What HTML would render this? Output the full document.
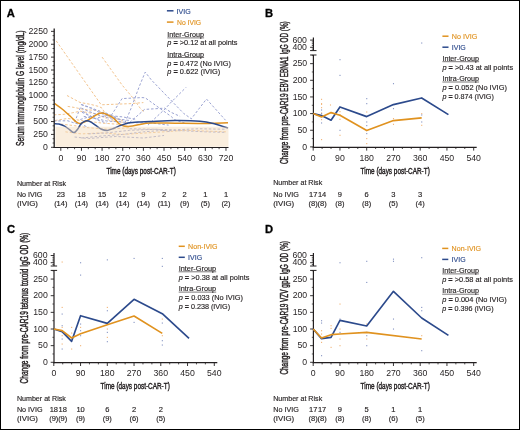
<!DOCTYPE html>
<html><head><meta charset="utf-8"><style>
html,body{margin:0;padding:0;background:#fff;}
svg{display:block;will-change:transform;}
text{font-family:"Liberation Sans", sans-serif;}
</style></head><body>
<svg width="520" height="430" viewBox="0 0 520 430" font-family='"Liberation Sans", sans-serif' fill="#231f20">
<rect width="520" height="430" fill="#fff"/>
<text x="6.80" y="16.80" font-size="11.2" font-weight="bold" fill="#000" stroke="#000" stroke-width="0.3">A</text>
<path d="M56.21,40.89 L101.17,104.79 L131.23,103.60 L143.38,102.57" fill="none" stroke="#f3c48e" stroke-width="1.0" stroke-dasharray="2.5 1.9"/>
<path d="M66.99,95.51 L80.07,102.47 L90.62,104.38 L98.88,106.49 L102.09,108.14 L106.68,116.38 L122.74,120.50" fill="none" stroke="#f3c48e" stroke-width="1.0" stroke-dasharray="2.5 1.9"/>
<path d="M67.68,106.39 L74.79,107.52 L84.20,109.58 L98.88,110.61 L103.24,113.81 L108.97,120.50 L129.62,123.08" fill="none" stroke="#f3c48e" stroke-width="1.0" stroke-dasharray="2.5 1.9"/>
<path d="M53.92,114.84 L64.47,114.32 L72.73,112.72 L80.30,111.23 L95.21,113.81 L106.68,118.44" fill="none" stroke="#f3c48e" stroke-width="1.0" stroke-dasharray="2.5 1.9"/>
<path d="M102.09,57.12 L122.05,84.95 L132.60,97.57 L140.86,109.12 L144.53,112.26" fill="none" stroke="#f3c48e" stroke-width="1.0" stroke-dasharray="2.5 1.9"/>
<path d="M55.06,120.50 L67.68,118.44 L81.45,120.50 L102.09,123.08 L122.74,124.63" fill="none" stroke="#f3c48e" stroke-width="1.0" stroke-dasharray="2.5 1.9"/>
<path d="M60.80,124.11 L74.56,125.66 L88.33,127.72 L106.68,129.26 L129.62,127.72" fill="none" stroke="#f3c48e" stroke-width="1.0" stroke-dasharray="2.5 1.9"/>
<path d="M65.39,131.84 L81.45,133.90 L102.09,132.87 L122.74,134.42 L164.03,131.84 L184.68,130.30 L225.97,131.84" fill="none" stroke="#f3c48e" stroke-width="1.0" stroke-dasharray="2.5 1.9"/>
<path d="M53.92,121.02 L67.68,120.76 L74.56,123.08 L81.45,124.63 L88.33,127.20" fill="none" stroke="#9ca4d3" stroke-width="1.0" stroke-dasharray="2.5 1.9"/>
<path d="M81.45,104.53 L90.62,107.62 L99.80,111.23 L111.27,116.38 L122.74,120.50" fill="none" stroke="#9ca4d3" stroke-width="1.0" stroke-dasharray="2.5 1.9"/>
<path d="M80.30,107.62 L76.86,116.38 L74.56,123.08" fill="none" stroke="#9ca4d3" stroke-width="1.0" stroke-dasharray="2.5 1.9"/>
<path d="M82.59,111.23 L88.33,114.84 L98.65,120.50 L106.68,123.08" fill="none" stroke="#9ca4d3" stroke-width="1.0" stroke-dasharray="2.5 1.9"/>
<path d="M125.03,122.57 L131.00,108.50 L139.48,85.98 L145.22,72.07 L151.41,80.00 L183.76,113.50 L191.33,118.80 L206.47,99.02 L225.51,120.20" fill="none" stroke="#9ca4d3" stroke-width="1.0" stroke-dasharray="2.5 1.9"/>
<path d="M111.27,115.35 L122.05,98.60 L142.01,97.57 L145.22,97.83 L171.37,116.64 L174.58,119.73 L184.68,123.08" fill="none" stroke="#9ca4d3" stroke-width="1.0" stroke-dasharray="2.5 1.9"/>
<path d="M147.97,125.14 L153.48,119.73 L165.18,108.81 L171.37,101.95 L186.05,87.37" fill="none" stroke="#9ca4d3" stroke-width="1.0" stroke-dasharray="2.5 1.9"/>
<path d="M83.74,116.38 L95.21,118.44 L106.68,121.02 L129.62,122.57 L152.56,123.08 L168.62,125.14" fill="none" stroke="#9ca4d3" stroke-width="1.0" stroke-dasharray="2.5 1.9"/>
<path d="M81.45,138.02 L102.09,135.96 L122.74,134.42 L143.38,131.84 L164.03,130.30 L184.68,130.81 L205.32,131.84 L225.97,132.36" fill="none" stroke="#9ca4d3" stroke-width="1.0" stroke-dasharray="2.5 1.9"/>
<path d="M88.33,133.90 L106.68,132.87 L129.62,130.30 L157.15,129.26 L170.91,131.84" fill="none" stroke="#9ca4d3" stroke-width="1.0" stroke-dasharray="2.5 1.9"/>
<path d="M74.56,136.99 L88.33,138.54 L115.86,136.48 L143.38,138.02 L164.03,135.45" fill="none" stroke="#9ca4d3" stroke-width="1.0" stroke-dasharray="2.5 1.9"/>
<path d="M129.62,128.75 L152.56,129.26 L175.50,129.78 L198.44,128.75 L225.97,129.26" fill="none" stroke="#9ca4d3" stroke-width="1.0" stroke-dasharray="2.5 1.9"/>
<path d="M129.62,122.57 L144.53,109.43 L164.72,108.14 L170.91,112.26 L180.09,116.38" fill="none" stroke="#9ca4d3" stroke-width="1.0" stroke-dasharray="2.5 1.9"/>
<path d="M80.99,104.53 L90.62,108.14 L102.09,113.81 L113.56,118.44 L129.62,120.50" fill="none" stroke="#9ca4d3" stroke-width="1.0" stroke-dasharray="2.5 1.9"/>
<path d="M81.45,108.14 L88.33,111.23 L100.94,115.87 L120.44,121.54" fill="none" stroke="#9ca4d3" stroke-width="1.0" stroke-dasharray="2.5 1.9"/>
<path d="M81.90,112.26 L95.21,118.44 L106.68,115.35 L122.74,116.90 L136.50,119.47" fill="none" stroke="#9ca4d3" stroke-width="1.0" stroke-dasharray="2.5 1.9"/>
<path d="M80.30,119.47 L90.62,116.38 L104.39,112.26 L118.15,118.44" fill="none" stroke="#9ca4d3" stroke-width="1.0" stroke-dasharray="2.5 1.9"/>
<path d="M54.80,103.70 C56.02,104.58 59.52,106.90 62.10,109.00 C64.68,111.10 68.18,114.33 70.30,116.30 C72.42,118.27 73.45,119.67 74.80,120.80 C76.15,121.93 77.45,122.67 78.40,123.10 C79.35,123.53 79.53,123.58 80.50,123.40 C81.47,123.22 82.92,122.57 84.20,122.00 C85.48,121.43 86.57,120.95 88.20,120.00 C89.83,119.05 91.78,117.45 94.00,116.30 C96.22,115.15 98.48,112.95 101.50,113.10 C104.52,113.25 109.22,115.47 112.10,117.20 C114.98,118.93 116.87,122.05 118.80,123.50 C120.73,124.95 121.77,125.43 123.70,125.90 C125.63,126.37 127.68,126.55 130.40,126.30 C133.12,126.05 136.73,124.95 140.00,124.40 C143.27,123.85 144.17,123.20 150.00,123.00 C155.83,122.80 166.67,123.12 175.00,123.20 C183.33,123.28 191.17,123.58 200.00,123.50 C208.83,123.42 223.33,122.83 228.00,122.70" fill="none" stroke="#e0921f" stroke-width="1.5"/>
<path d="M54.50,123.60 C55.23,123.67 57.22,123.58 58.90,124.00 C60.58,124.42 62.83,125.15 64.60,126.10 C66.37,127.05 67.93,128.62 69.50,129.70 C71.07,130.78 72.65,132.67 74.00,132.60 C75.35,132.53 76.45,130.73 77.60,129.30 C78.75,127.87 79.67,125.35 80.90,124.00 C82.13,122.65 83.92,121.73 85.00,121.20 C86.08,120.67 86.32,120.60 87.40,120.80 C88.48,121.00 90.10,121.63 91.50,122.40 C92.90,123.17 94.13,124.27 95.80,125.40 C97.47,126.53 99.58,128.37 101.50,129.20 C103.42,130.03 105.22,130.55 107.30,130.40 C109.38,130.25 111.75,129.13 114.00,128.30 C116.25,127.47 118.38,126.28 120.80,125.40 C123.22,124.52 125.30,123.57 128.50,123.00 C131.70,122.43 136.42,122.23 140.00,122.00 C143.58,121.77 144.17,121.85 150.00,121.60 C155.83,121.35 166.67,120.57 175.00,120.50 C183.33,120.43 193.33,120.62 200.00,121.20 C206.67,121.78 210.33,122.85 215.00,124.00 C219.67,125.15 225.83,127.42 228.00,128.10" fill="none" stroke="#2c4a8c" stroke-width="1.5"/>
<rect x="55.4" y="126.69" width="173.1" height="20.11" fill="#f4d9b6" fill-opacity="0.45"/>
<line x1="54.20" y1="28.50" x2="54.20" y2="148.00" stroke="#231f20" stroke-width="1.3"/>
<line x1="53.50" y1="147.50" x2="228.50" y2="147.50" stroke="#231f20" stroke-width="1.2"/>
<line x1="51.00" y1="147.30" x2="54.20" y2="147.30" stroke="#231f20" stroke-width="0.9"/>
<text x="47.90" y="149.90" font-size="8.3" text-anchor="end" textLength="4.85" lengthAdjust="spacingAndGlyphs" stroke="#231f20" stroke-width="0">0</text>
<line x1="52.60" y1="143.01" x2="54.20" y2="143.01" stroke="#231f20" stroke-width="0.8"/>
<line x1="52.60" y1="138.71" x2="54.20" y2="138.71" stroke="#231f20" stroke-width="0.8"/>
<line x1="51.00" y1="134.42" x2="54.20" y2="134.42" stroke="#231f20" stroke-width="0.9"/>
<text x="47.90" y="137.02" font-size="8.3" text-anchor="end" textLength="14.55" lengthAdjust="spacingAndGlyphs" stroke="#231f20" stroke-width="0">250</text>
<line x1="52.60" y1="130.12" x2="54.20" y2="130.12" stroke="#231f20" stroke-width="0.8"/>
<line x1="52.60" y1="125.83" x2="54.20" y2="125.83" stroke="#231f20" stroke-width="0.8"/>
<line x1="51.00" y1="121.54" x2="54.20" y2="121.54" stroke="#231f20" stroke-width="0.9"/>
<text x="47.90" y="124.14" font-size="8.3" text-anchor="end" textLength="14.55" lengthAdjust="spacingAndGlyphs" stroke="#231f20" stroke-width="0">500</text>
<line x1="52.60" y1="117.24" x2="54.20" y2="117.24" stroke="#231f20" stroke-width="0.8"/>
<line x1="52.60" y1="112.95" x2="54.20" y2="112.95" stroke="#231f20" stroke-width="0.8"/>
<line x1="51.00" y1="108.65" x2="54.20" y2="108.65" stroke="#231f20" stroke-width="0.9"/>
<text x="47.90" y="111.25" font-size="8.3" text-anchor="end" textLength="14.55" lengthAdjust="spacingAndGlyphs" stroke="#231f20" stroke-width="0">750</text>
<line x1="52.60" y1="104.36" x2="54.20" y2="104.36" stroke="#231f20" stroke-width="0.8"/>
<line x1="52.60" y1="100.06" x2="54.20" y2="100.06" stroke="#231f20" stroke-width="0.8"/>
<line x1="51.00" y1="95.77" x2="54.20" y2="95.77" stroke="#231f20" stroke-width="0.9"/>
<text x="47.90" y="98.37" font-size="8.3" text-anchor="end" textLength="19.40" lengthAdjust="spacingAndGlyphs" stroke="#231f20" stroke-width="0">1000</text>
<line x1="52.60" y1="91.48" x2="54.20" y2="91.48" stroke="#231f20" stroke-width="0.8"/>
<line x1="52.60" y1="87.18" x2="54.20" y2="87.18" stroke="#231f20" stroke-width="0.8"/>
<line x1="51.00" y1="82.89" x2="54.20" y2="82.89" stroke="#231f20" stroke-width="0.9"/>
<text x="47.90" y="85.49" font-size="8.3" text-anchor="end" textLength="19.40" lengthAdjust="spacingAndGlyphs" stroke="#231f20" stroke-width="0">1250</text>
<line x1="52.60" y1="78.59" x2="54.20" y2="78.59" stroke="#231f20" stroke-width="0.8"/>
<line x1="52.60" y1="74.30" x2="54.20" y2="74.30" stroke="#231f20" stroke-width="0.8"/>
<line x1="51.00" y1="70.01" x2="54.20" y2="70.01" stroke="#231f20" stroke-width="0.9"/>
<text x="47.90" y="72.61" font-size="8.3" text-anchor="end" textLength="19.40" lengthAdjust="spacingAndGlyphs" stroke="#231f20" stroke-width="0">1500</text>
<line x1="52.60" y1="65.71" x2="54.20" y2="65.71" stroke="#231f20" stroke-width="0.8"/>
<line x1="52.60" y1="61.42" x2="54.20" y2="61.42" stroke="#231f20" stroke-width="0.8"/>
<line x1="51.00" y1="57.12" x2="54.20" y2="57.12" stroke="#231f20" stroke-width="0.9"/>
<text x="47.90" y="59.72" font-size="8.3" text-anchor="end" textLength="19.40" lengthAdjust="spacingAndGlyphs" stroke="#231f20" stroke-width="0">1750</text>
<line x1="52.60" y1="52.83" x2="54.20" y2="52.83" stroke="#231f20" stroke-width="0.8"/>
<line x1="52.60" y1="48.53" x2="54.20" y2="48.53" stroke="#231f20" stroke-width="0.8"/>
<line x1="51.00" y1="44.24" x2="54.20" y2="44.24" stroke="#231f20" stroke-width="0.9"/>
<text x="47.90" y="46.84" font-size="8.3" text-anchor="end" textLength="19.40" lengthAdjust="spacingAndGlyphs" stroke="#231f20" stroke-width="0">2000</text>
<line x1="52.60" y1="39.95" x2="54.20" y2="39.95" stroke="#231f20" stroke-width="0.8"/>
<line x1="52.60" y1="35.65" x2="54.20" y2="35.65" stroke="#231f20" stroke-width="0.8"/>
<line x1="51.00" y1="31.36" x2="54.20" y2="31.36" stroke="#231f20" stroke-width="0.9"/>
<text x="47.90" y="33.96" font-size="8.3" text-anchor="end" textLength="19.40" lengthAdjust="spacingAndGlyphs" stroke="#231f20" stroke-width="0">2250</text>
<line x1="60.80" y1="147.50" x2="60.80" y2="150.80" stroke="#231f20" stroke-width="0.9"/>
<text x="60.80" y="160.80" font-size="8.3" text-anchor="middle" textLength="4.85" lengthAdjust="spacingAndGlyphs" stroke="#231f20" stroke-width="0">0</text>
<line x1="67.68" y1="147.50" x2="67.68" y2="149.20" stroke="#231f20" stroke-width="0.8"/>
<line x1="74.56" y1="147.50" x2="74.56" y2="149.20" stroke="#231f20" stroke-width="0.8"/>
<line x1="81.45" y1="147.50" x2="81.45" y2="150.80" stroke="#231f20" stroke-width="0.9"/>
<text x="81.45" y="160.80" font-size="8.3" text-anchor="middle" textLength="9.70" lengthAdjust="spacingAndGlyphs" stroke="#231f20" stroke-width="0">90</text>
<line x1="88.33" y1="147.50" x2="88.33" y2="149.20" stroke="#231f20" stroke-width="0.8"/>
<line x1="95.21" y1="147.50" x2="95.21" y2="149.20" stroke="#231f20" stroke-width="0.8"/>
<line x1="102.09" y1="147.50" x2="102.09" y2="150.80" stroke="#231f20" stroke-width="0.9"/>
<text x="102.09" y="160.80" font-size="8.3" text-anchor="middle" textLength="14.55" lengthAdjust="spacingAndGlyphs" stroke="#231f20" stroke-width="0">180</text>
<line x1="108.97" y1="147.50" x2="108.97" y2="149.20" stroke="#231f20" stroke-width="0.8"/>
<line x1="115.86" y1="147.50" x2="115.86" y2="149.20" stroke="#231f20" stroke-width="0.8"/>
<line x1="122.74" y1="147.50" x2="122.74" y2="150.80" stroke="#231f20" stroke-width="0.9"/>
<text x="122.74" y="160.80" font-size="8.3" text-anchor="middle" textLength="14.55" lengthAdjust="spacingAndGlyphs" stroke="#231f20" stroke-width="0">270</text>
<line x1="129.62" y1="147.50" x2="129.62" y2="149.20" stroke="#231f20" stroke-width="0.8"/>
<line x1="136.50" y1="147.50" x2="136.50" y2="149.20" stroke="#231f20" stroke-width="0.8"/>
<line x1="143.38" y1="147.50" x2="143.38" y2="150.80" stroke="#231f20" stroke-width="0.9"/>
<text x="143.38" y="160.80" font-size="8.3" text-anchor="middle" textLength="14.55" lengthAdjust="spacingAndGlyphs" stroke="#231f20" stroke-width="0">360</text>
<line x1="150.27" y1="147.50" x2="150.27" y2="149.20" stroke="#231f20" stroke-width="0.8"/>
<line x1="157.15" y1="147.50" x2="157.15" y2="149.20" stroke="#231f20" stroke-width="0.8"/>
<line x1="164.03" y1="147.50" x2="164.03" y2="150.80" stroke="#231f20" stroke-width="0.9"/>
<text x="164.03" y="160.80" font-size="8.3" text-anchor="middle" textLength="14.55" lengthAdjust="spacingAndGlyphs" stroke="#231f20" stroke-width="0">450</text>
<line x1="170.91" y1="147.50" x2="170.91" y2="149.20" stroke="#231f20" stroke-width="0.8"/>
<line x1="177.79" y1="147.50" x2="177.79" y2="149.20" stroke="#231f20" stroke-width="0.8"/>
<line x1="184.68" y1="147.50" x2="184.68" y2="150.80" stroke="#231f20" stroke-width="0.9"/>
<text x="184.68" y="160.80" font-size="8.3" text-anchor="middle" textLength="14.55" lengthAdjust="spacingAndGlyphs" stroke="#231f20" stroke-width="0">540</text>
<line x1="191.56" y1="147.50" x2="191.56" y2="149.20" stroke="#231f20" stroke-width="0.8"/>
<line x1="198.44" y1="147.50" x2="198.44" y2="149.20" stroke="#231f20" stroke-width="0.8"/>
<line x1="205.32" y1="147.50" x2="205.32" y2="150.80" stroke="#231f20" stroke-width="0.9"/>
<text x="205.32" y="160.80" font-size="8.3" text-anchor="middle" textLength="14.55" lengthAdjust="spacingAndGlyphs" stroke="#231f20" stroke-width="0">630</text>
<line x1="212.20" y1="147.50" x2="212.20" y2="149.20" stroke="#231f20" stroke-width="0.8"/>
<line x1="219.09" y1="147.50" x2="219.09" y2="149.20" stroke="#231f20" stroke-width="0.8"/>
<line x1="225.97" y1="147.50" x2="225.97" y2="150.80" stroke="#231f20" stroke-width="0.9"/>
<text x="225.97" y="160.80" font-size="8.3" text-anchor="middle" textLength="14.55" lengthAdjust="spacingAndGlyphs" stroke="#231f20" stroke-width="0">720</text>
<text x="106.50" y="173.90" font-size="9.6" textLength="69.30" lengthAdjust="spacingAndGlyphs" stroke="#231f20" stroke-width="0.45">Time (days post-CAR-T)</text>
<text x="24.20" y="145.90" font-size="10.4" textLength="115.50" lengthAdjust="spacingAndGlyphs" stroke="#231f20" stroke-width="0.45" transform="rotate(-90 24.20 145.90)">Serum immunoglobulin G level (mg/dL)</text>
<line x1="166.90" y1="10.80" x2="173.50" y2="10.80" stroke="#2c4a8c" stroke-width="1.5"/>
<text x="176.60" y="13.60" font-size="7.8" textLength="14.10" lengthAdjust="spacingAndGlyphs" fill="#2c4a8c" stroke="#2c4a8c" stroke-width="0.15">IVIG</text>
<line x1="166.90" y1="22.10" x2="173.50" y2="22.10" stroke="#e0921f" stroke-width="1.5"/>
<text x="177.00" y="24.90" font-size="7.8" textLength="24.10" lengthAdjust="spacingAndGlyphs" fill="#e0921f" stroke="#e0921f" stroke-width="0.15">No IVIG</text>
<text x="167.30" y="36.90" font-size="7.5" textLength="36.80" lengthAdjust="spacingAndGlyphs" stroke="#231f20" stroke-width="0.15">Inter-Group</text>
<line x1="167.30" y1="37.90" x2="204.10" y2="37.90" stroke="#231f20" stroke-width="0.6"/>
<text x="167.30" y="45.35" font-size="7.5" textLength="70.20" lengthAdjust="spacingAndGlyphs" stroke="#231f20" stroke-width="0.15"><tspan font-style="italic">p</tspan> <tspan font-weight="bold">=</tspan> &gt;0.12 at all points</text>
<text x="167.30" y="56.50" font-size="7.5" textLength="36.80" lengthAdjust="spacingAndGlyphs" stroke="#231f20" stroke-width="0.15">Intra-Group</text>
<line x1="167.30" y1="57.50" x2="204.10" y2="57.50" stroke="#231f20" stroke-width="0.6"/>
<text x="167.30" y="65.75" font-size="7.5" textLength="63.60" lengthAdjust="spacingAndGlyphs" stroke="#231f20" stroke-width="0.15"><tspan font-style="italic">p</tspan> <tspan font-weight="bold">=</tspan> 0.472 (No IVIG)</text>
<text x="167.30" y="73.95" font-size="7.5" textLength="52.90" lengthAdjust="spacingAndGlyphs" stroke="#231f20" stroke-width="0.15"><tspan font-style="italic">p</tspan> <tspan font-weight="bold">=</tspan> 0.622 (IVIG)</text>
<text x="16.90" y="185.60" font-size="7.5" textLength="49.20" lengthAdjust="spacingAndGlyphs" stroke="#231f20" stroke-width="0.15">Number at Risk</text>
<text x="16.90" y="196.90" font-size="7.5" textLength="25.40" lengthAdjust="spacingAndGlyphs" stroke="#231f20" stroke-width="0.15">No IVIG</text>
<text x="16.90" y="205.80" font-size="7.5" textLength="21.00" lengthAdjust="spacingAndGlyphs" stroke="#231f20" stroke-width="0.15">(IVIG)</text>
<text x="60.80" y="196.90" font-size="7.5" text-anchor="middle" stroke="#231f20" stroke-width="0.15">23</text>
<text x="60.80" y="205.80" font-size="7.5" text-anchor="middle" stroke="#231f20" stroke-width="0.15">(14)</text>
<text x="81.45" y="196.90" font-size="7.5" text-anchor="middle" stroke="#231f20" stroke-width="0.15">18</text>
<text x="81.45" y="205.80" font-size="7.5" text-anchor="middle" stroke="#231f20" stroke-width="0.15">(14)</text>
<text x="102.09" y="196.90" font-size="7.5" text-anchor="middle" stroke="#231f20" stroke-width="0.15">15</text>
<text x="102.09" y="205.80" font-size="7.5" text-anchor="middle" stroke="#231f20" stroke-width="0.15">(14)</text>
<text x="122.74" y="196.90" font-size="7.5" text-anchor="middle" stroke="#231f20" stroke-width="0.15">12</text>
<text x="122.74" y="205.80" font-size="7.5" text-anchor="middle" stroke="#231f20" stroke-width="0.15">(14)</text>
<text x="143.38" y="196.90" font-size="7.5" text-anchor="middle" stroke="#231f20" stroke-width="0.15">9</text>
<text x="143.38" y="205.80" font-size="7.5" text-anchor="middle" stroke="#231f20" stroke-width="0.15">(14)</text>
<text x="164.03" y="196.90" font-size="7.5" text-anchor="middle" stroke="#231f20" stroke-width="0.15">2</text>
<text x="164.03" y="205.80" font-size="7.5" text-anchor="middle" stroke="#231f20" stroke-width="0.15">(11)</text>
<text x="184.68" y="196.90" font-size="7.5" text-anchor="middle" stroke="#231f20" stroke-width="0.15">2</text>
<text x="184.68" y="205.80" font-size="7.5" text-anchor="middle" stroke="#231f20" stroke-width="0.15">(9)</text>
<text x="205.32" y="196.90" font-size="7.5" text-anchor="middle" stroke="#231f20" stroke-width="0.15">1</text>
<text x="205.32" y="205.80" font-size="7.5" text-anchor="middle" stroke="#231f20" stroke-width="0.15">(5)</text>
<text x="225.97" y="196.90" font-size="7.5" text-anchor="middle" stroke="#231f20" stroke-width="0.15">1</text>
<text x="225.97" y="205.80" font-size="7.5" text-anchor="middle" stroke="#231f20" stroke-width="0.15">(2)</text>
<text x="265.10" y="16.70" font-size="11.2" font-weight="bold" fill="#000" stroke="#000" stroke-width="0.3">B</text>
<line x1="313.40" y1="37.60" x2="313.40" y2="50.60" stroke="#231f20" stroke-width="1.2"/>
<line x1="310.10" y1="50.60" x2="316.50" y2="50.60" stroke="#231f20" stroke-width="1.0"/>
<line x1="310.10" y1="55.00" x2="316.50" y2="55.00" stroke="#231f20" stroke-width="1.0"/>
<line x1="310.10" y1="40.10" x2="313.40" y2="40.10" stroke="#231f20" stroke-width="0.9"/>
<text x="306.95" y="42.70" font-size="8.3" text-anchor="end" textLength="14.55" lengthAdjust="spacingAndGlyphs" stroke="#231f20" stroke-width="0">600</text>
<line x1="310.10" y1="47.30" x2="313.40" y2="47.30" stroke="#231f20" stroke-width="0.9"/>
<text x="306.95" y="49.90" font-size="8.3" text-anchor="end" textLength="14.55" lengthAdjust="spacingAndGlyphs" stroke="#231f20" stroke-width="0">400</text>
<line x1="311.80" y1="41.90" x2="313.40" y2="41.90" stroke="#231f20" stroke-width="0.7"/>
<line x1="311.80" y1="43.70" x2="313.40" y2="43.70" stroke="#231f20" stroke-width="0.7"/>
<line x1="311.80" y1="45.50" x2="313.40" y2="45.50" stroke="#231f20" stroke-width="0.7"/>
<line x1="311.80" y1="49.10" x2="313.40" y2="49.10" stroke="#231f20" stroke-width="0.7"/>
<line x1="313.40" y1="55.00" x2="313.40" y2="147.90" stroke="#231f20" stroke-width="1.2"/>
<line x1="312.80" y1="147.30" x2="476.70" y2="147.30" stroke="#231f20" stroke-width="1.2"/>
<line x1="310.10" y1="146.90" x2="313.40" y2="146.90" stroke="#231f20" stroke-width="0.9"/>
<text x="307.20" y="149.50" font-size="8.3" text-anchor="end" textLength="4.85" lengthAdjust="spacingAndGlyphs" stroke="#231f20" stroke-width="0">0</text>
<line x1="310.10" y1="130.25" x2="313.40" y2="130.25" stroke="#231f20" stroke-width="0.9"/>
<text x="307.20" y="132.85" font-size="8.3" text-anchor="end" textLength="9.70" lengthAdjust="spacingAndGlyphs" stroke="#231f20" stroke-width="0">50</text>
<line x1="310.10" y1="113.60" x2="313.40" y2="113.60" stroke="#231f20" stroke-width="0.9"/>
<text x="307.20" y="116.20" font-size="8.3" text-anchor="end" textLength="14.55" lengthAdjust="spacingAndGlyphs" stroke="#231f20" stroke-width="0">100</text>
<line x1="310.10" y1="96.95" x2="313.40" y2="96.95" stroke="#231f20" stroke-width="0.9"/>
<text x="307.20" y="99.55" font-size="8.3" text-anchor="end" textLength="14.55" lengthAdjust="spacingAndGlyphs" stroke="#231f20" stroke-width="0">150</text>
<line x1="310.10" y1="80.30" x2="313.40" y2="80.30" stroke="#231f20" stroke-width="0.9"/>
<text x="307.20" y="82.90" font-size="8.3" text-anchor="end" textLength="14.55" lengthAdjust="spacingAndGlyphs" stroke="#231f20" stroke-width="0">200</text>
<line x1="310.10" y1="63.65" x2="313.40" y2="63.65" stroke="#231f20" stroke-width="0.9"/>
<text x="307.20" y="66.25" font-size="8.3" text-anchor="end" textLength="14.55" lengthAdjust="spacingAndGlyphs" stroke="#231f20" stroke-width="0">250</text>
<line x1="311.80" y1="138.58" x2="313.40" y2="138.58" stroke="#231f20" stroke-width="0.7"/>
<line x1="311.80" y1="121.93" x2="313.40" y2="121.93" stroke="#231f20" stroke-width="0.7"/>
<line x1="311.80" y1="105.28" x2="313.40" y2="105.28" stroke="#231f20" stroke-width="0.7"/>
<line x1="311.80" y1="88.62" x2="313.40" y2="88.62" stroke="#231f20" stroke-width="0.7"/>
<line x1="311.80" y1="71.98" x2="313.40" y2="71.98" stroke="#231f20" stroke-width="0.7"/>
<line x1="311.80" y1="55.33" x2="313.40" y2="55.33" stroke="#231f20" stroke-width="0.7"/>
<line x1="313.20" y1="147.30" x2="313.20" y2="150.60" stroke="#231f20" stroke-width="0.9"/>
<text x="313.20" y="160.90" font-size="8.3" text-anchor="middle" textLength="4.85" lengthAdjust="spacingAndGlyphs" stroke="#231f20" stroke-width="0">0</text>
<line x1="322.12" y1="147.30" x2="322.12" y2="149.00" stroke="#231f20" stroke-width="0.8"/>
<line x1="331.03" y1="147.30" x2="331.03" y2="149.00" stroke="#231f20" stroke-width="0.8"/>
<line x1="339.95" y1="147.30" x2="339.95" y2="150.60" stroke="#231f20" stroke-width="0.9"/>
<text x="339.95" y="160.90" font-size="8.3" text-anchor="middle" textLength="9.70" lengthAdjust="spacingAndGlyphs" stroke="#231f20" stroke-width="0">90</text>
<line x1="348.86" y1="147.30" x2="348.86" y2="149.00" stroke="#231f20" stroke-width="0.8"/>
<line x1="357.78" y1="147.30" x2="357.78" y2="149.00" stroke="#231f20" stroke-width="0.8"/>
<line x1="366.70" y1="147.30" x2="366.70" y2="150.60" stroke="#231f20" stroke-width="0.9"/>
<text x="366.70" y="160.90" font-size="8.3" text-anchor="middle" textLength="14.55" lengthAdjust="spacingAndGlyphs" stroke="#231f20" stroke-width="0">180</text>
<line x1="375.61" y1="147.30" x2="375.61" y2="149.00" stroke="#231f20" stroke-width="0.8"/>
<line x1="384.53" y1="147.30" x2="384.53" y2="149.00" stroke="#231f20" stroke-width="0.8"/>
<line x1="393.44" y1="147.30" x2="393.44" y2="150.60" stroke="#231f20" stroke-width="0.9"/>
<text x="393.44" y="160.90" font-size="8.3" text-anchor="middle" textLength="14.55" lengthAdjust="spacingAndGlyphs" stroke="#231f20" stroke-width="0">270</text>
<line x1="402.36" y1="147.30" x2="402.36" y2="149.00" stroke="#231f20" stroke-width="0.8"/>
<line x1="411.28" y1="147.30" x2="411.28" y2="149.00" stroke="#231f20" stroke-width="0.8"/>
<line x1="420.19" y1="147.30" x2="420.19" y2="150.60" stroke="#231f20" stroke-width="0.9"/>
<text x="420.19" y="160.90" font-size="8.3" text-anchor="middle" textLength="14.55" lengthAdjust="spacingAndGlyphs" stroke="#231f20" stroke-width="0">360</text>
<line x1="429.11" y1="147.30" x2="429.11" y2="149.00" stroke="#231f20" stroke-width="0.8"/>
<line x1="438.02" y1="147.30" x2="438.02" y2="149.00" stroke="#231f20" stroke-width="0.8"/>
<line x1="446.94" y1="147.30" x2="446.94" y2="150.60" stroke="#231f20" stroke-width="0.9"/>
<text x="446.94" y="160.90" font-size="8.3" text-anchor="middle" textLength="14.55" lengthAdjust="spacingAndGlyphs" stroke="#231f20" stroke-width="0">450</text>
<line x1="455.86" y1="147.30" x2="455.86" y2="149.00" stroke="#231f20" stroke-width="0.8"/>
<line x1="464.77" y1="147.30" x2="464.77" y2="149.00" stroke="#231f20" stroke-width="0.8"/>
<line x1="473.69" y1="147.30" x2="473.69" y2="150.60" stroke="#231f20" stroke-width="0.9"/>
<text x="473.69" y="160.90" font-size="8.3" text-anchor="middle" textLength="14.55" lengthAdjust="spacingAndGlyphs" stroke="#231f20" stroke-width="0">540</text>
<text x="360.60" y="173.70" font-size="9.6" textLength="69.20" lengthAdjust="spacingAndGlyphs" stroke="#231f20" stroke-width="0.45">Time (days post-CAR-T)</text>
<text x="288.20" y="164.00" font-size="10.4" textLength="142.70" lengthAdjust="spacingAndGlyphs" stroke="#231f20" stroke-width="0.45" transform="rotate(-90 288.20 164.00)">Change from pre-CAR19 EBV EBNA1 IgG OD (%)</text>
<rect x="321.02" y="98.78" width="1.1" height="1.1" fill="#f0b070"/>
<rect x="321.02" y="103.11" width="1.1" height="1.1" fill="#f0b070"/>
<rect x="321.02" y="103.78" width="1.1" height="1.1" fill="#f0b070"/>
<rect x="321.02" y="107.11" width="1.1" height="1.1" fill="#f0b070"/>
<rect x="321.02" y="112.43" width="1.1" height="1.1" fill="#f0b070"/>
<rect x="321.02" y="119.09" width="1.1" height="1.1" fill="#f0b070"/>
<rect x="321.02" y="139.07" width="1.1" height="1.1" fill="#f0b070"/>
<rect x="321.02" y="109.44" width="1.1" height="1.1" fill="#8090c0"/>
<rect x="321.02" y="113.10" width="1.1" height="1.1" fill="#8090c0"/>
<rect x="321.02" y="122.42" width="1.1" height="1.1" fill="#8090c0"/>
<rect x="329.94" y="104.44" width="1.1" height="1.1" fill="#f0b070"/>
<rect x="339.45" y="111.10" width="1.1" height="1.1" fill="#f0b070"/>
<rect x="339.45" y="114.43" width="1.1" height="1.1" fill="#f0b070"/>
<rect x="339.45" y="118.76" width="1.1" height="1.1" fill="#f0b070"/>
<rect x="339.45" y="134.75" width="1.1" height="1.1" fill="#f0b070"/>
<rect x="339.45" y="114.77" width="1.1" height="1.1" fill="#8090c0"/>
<rect x="339.45" y="129.75" width="1.1" height="1.1" fill="#8090c0"/>
<rect x="339.45" y="74.81" width="1.1" height="1.1" fill="#8090c0"/>
<rect x="339.45" y="59.15" width="1.1" height="1.1" fill="#8090c0"/>
<rect x="366.20" y="98.12" width="1.1" height="1.1" fill="#8090c0"/>
<rect x="366.20" y="103.11" width="1.1" height="1.1" fill="#8090c0"/>
<rect x="366.20" y="111.44" width="1.1" height="1.1" fill="#f0b070"/>
<rect x="366.20" y="121.43" width="1.1" height="1.1" fill="#8090c0"/>
<rect x="366.20" y="125.09" width="1.1" height="1.1" fill="#8090c0"/>
<rect x="366.20" y="133.08" width="1.1" height="1.1" fill="#8090c0"/>
<rect x="366.20" y="138.08" width="1.1" height="1.1" fill="#f0b070"/>
<rect x="366.20" y="143.07" width="1.1" height="1.1" fill="#f0b070"/>
<rect x="392.94" y="83.13" width="1.1" height="1.1" fill="#8090c0"/>
<rect x="392.94" y="108.11" width="1.1" height="1.1" fill="#8090c0"/>
<rect x="392.94" y="118.09" width="1.1" height="1.1" fill="#f0b070"/>
<rect x="392.94" y="123.76" width="1.1" height="1.1" fill="#f0b070"/>
<rect x="421.18" y="42.48" width="1.1" height="1.1" fill="#8090c0"/>
<rect x="421.18" y="113.10" width="1.1" height="1.1" fill="#f0b070"/>
<rect x="421.18" y="114.43" width="1.1" height="1.1" fill="#8090c0"/>
<rect x="421.18" y="121.43" width="1.1" height="1.1" fill="#8090c0"/>
<rect x="421.18" y="124.76" width="1.1" height="1.1" fill="#f0b070"/>
<path d="M313.20,113.60 L321.52,115.60 L331.03,120.26 L339.95,106.94 L366.70,116.60 L393.44,104.61 L421.68,97.95 L448.43,114.60" fill="none" stroke="#2c4a8c" stroke-width="1.65" stroke-linejoin="round"/>
<path d="M313.20,113.60 L321.52,116.93 L331.03,112.60 L339.95,115.27 L366.70,130.58 L393.44,120.59 L421.68,117.93" fill="none" stroke="#e0921f" stroke-width="1.65" stroke-linejoin="round"/>
<line x1="442.40" y1="36.20" x2="448.50" y2="36.20" stroke="#e0921f" stroke-width="1.5"/>
<text x="451.80" y="38.50" font-size="7.8" textLength="25.40" lengthAdjust="spacingAndGlyphs" fill="#e0921f" stroke="#e0921f" stroke-width="0.15">No IVIG</text>
<line x1="442.40" y1="47.20" x2="448.50" y2="47.20" stroke="#2c4a8c" stroke-width="1.5"/>
<text x="451.80" y="49.50" font-size="7.8" textLength="14.00" lengthAdjust="spacingAndGlyphs" fill="#2c4a8c" stroke="#2c4a8c" stroke-width="0.15">IVIG</text>
<text x="442.40" y="60.70" font-size="7.5" textLength="36.70" lengthAdjust="spacingAndGlyphs" stroke="#231f20" stroke-width="0.15">Inter-Group</text>
<line x1="442.40" y1="61.70" x2="479.10" y2="61.70" stroke="#231f20" stroke-width="0.6"/>
<text x="442.40" y="69.80" font-size="7.5" textLength="70.70" lengthAdjust="spacingAndGlyphs" stroke="#231f20" stroke-width="0.15"><tspan font-style="italic">p</tspan> <tspan font-weight="bold">=</tspan> &gt;0.43 at all points</text>
<text x="442.40" y="81.00" font-size="7.5" textLength="36.70" lengthAdjust="spacingAndGlyphs" stroke="#231f20" stroke-width="0.15">Intra-Group</text>
<line x1="442.40" y1="82.00" x2="479.10" y2="82.00" stroke="#231f20" stroke-width="0.6"/>
<text x="442.40" y="90.20" font-size="7.5" textLength="64.50" lengthAdjust="spacingAndGlyphs" stroke="#231f20" stroke-width="0.15"><tspan font-style="italic">p</tspan> <tspan font-weight="bold">=</tspan> 0.052 (No IVIG)</text>
<text x="442.40" y="99.20" font-size="7.5" textLength="51.40" lengthAdjust="spacingAndGlyphs" stroke="#231f20" stroke-width="0.15"><tspan font-style="italic">p</tspan> <tspan font-weight="bold">=</tspan> 0.874 (IVIG)</text>
<text x="273.20" y="185.30" font-size="7.5" textLength="49.00" lengthAdjust="spacingAndGlyphs" stroke="#231f20" stroke-width="0.15">Number at Risk</text>
<text x="273.20" y="197.00" font-size="7.5" textLength="25.60" lengthAdjust="spacingAndGlyphs" stroke="#231f20" stroke-width="0.15">No IVIG</text>
<text x="273.20" y="205.80" font-size="7.5" textLength="21.00" lengthAdjust="spacingAndGlyphs" stroke="#231f20" stroke-width="0.15">(IVIG)</text>
<text x="313.20" y="197.00" font-size="7.5" text-anchor="middle" stroke="#231f20" stroke-width="0.15">17</text>
<text x="313.20" y="205.80" font-size="7.5" text-anchor="middle" stroke="#231f20" stroke-width="0.15">(8)</text>
<text x="322.12" y="197.00" font-size="7.5" text-anchor="middle" stroke="#231f20" stroke-width="0.15">14</text>
<text x="322.12" y="205.80" font-size="7.5" text-anchor="middle" stroke="#231f20" stroke-width="0.15">(8)</text>
<text x="339.95" y="197.00" font-size="7.5" text-anchor="middle" stroke="#231f20" stroke-width="0.15">9</text>
<text x="339.95" y="205.80" font-size="7.5" text-anchor="middle" stroke="#231f20" stroke-width="0.15">(8)</text>
<text x="366.70" y="197.00" font-size="7.5" text-anchor="middle" stroke="#231f20" stroke-width="0.15">6</text>
<text x="366.70" y="205.80" font-size="7.5" text-anchor="middle" stroke="#231f20" stroke-width="0.15">(8)</text>
<text x="393.44" y="197.00" font-size="7.5" text-anchor="middle" stroke="#231f20" stroke-width="0.15">3</text>
<text x="393.44" y="205.80" font-size="7.5" text-anchor="middle" stroke="#231f20" stroke-width="0.15">(5)</text>
<text x="420.19" y="197.00" font-size="7.5" text-anchor="middle" stroke="#231f20" stroke-width="0.15">3</text>
<text x="420.19" y="205.80" font-size="7.5" text-anchor="middle" stroke="#231f20" stroke-width="0.15">(4)</text>
<text x="6.90" y="233.10" font-size="11.2" font-weight="bold" fill="#000" stroke="#000" stroke-width="0.3">C</text>
<line x1="54.00" y1="253.00" x2="54.00" y2="266.00" stroke="#231f20" stroke-width="1.2"/>
<line x1="50.70" y1="266.00" x2="57.10" y2="266.00" stroke="#231f20" stroke-width="1.0"/>
<line x1="50.70" y1="270.40" x2="57.10" y2="270.40" stroke="#231f20" stroke-width="1.0"/>
<line x1="50.70" y1="255.50" x2="54.00" y2="255.50" stroke="#231f20" stroke-width="0.9"/>
<text x="47.55" y="258.10" font-size="8.3" text-anchor="end" textLength="14.55" lengthAdjust="spacingAndGlyphs" stroke="#231f20" stroke-width="0">600</text>
<line x1="50.70" y1="262.70" x2="54.00" y2="262.70" stroke="#231f20" stroke-width="0.9"/>
<text x="47.55" y="265.30" font-size="8.3" text-anchor="end" textLength="14.55" lengthAdjust="spacingAndGlyphs" stroke="#231f20" stroke-width="0">400</text>
<line x1="52.40" y1="257.30" x2="54.00" y2="257.30" stroke="#231f20" stroke-width="0.7"/>
<line x1="52.40" y1="259.10" x2="54.00" y2="259.10" stroke="#231f20" stroke-width="0.7"/>
<line x1="52.40" y1="260.90" x2="54.00" y2="260.90" stroke="#231f20" stroke-width="0.7"/>
<line x1="52.40" y1="264.50" x2="54.00" y2="264.50" stroke="#231f20" stroke-width="0.7"/>
<line x1="54.00" y1="270.40" x2="54.00" y2="363.30" stroke="#231f20" stroke-width="1.2"/>
<line x1="53.40" y1="362.70" x2="217.30" y2="362.70" stroke="#231f20" stroke-width="1.2"/>
<line x1="50.70" y1="362.30" x2="54.00" y2="362.30" stroke="#231f20" stroke-width="0.9"/>
<text x="47.80" y="364.90" font-size="8.3" text-anchor="end" textLength="4.85" lengthAdjust="spacingAndGlyphs" stroke="#231f20" stroke-width="0">0</text>
<line x1="50.70" y1="345.65" x2="54.00" y2="345.65" stroke="#231f20" stroke-width="0.9"/>
<text x="47.80" y="348.25" font-size="8.3" text-anchor="end" textLength="9.70" lengthAdjust="spacingAndGlyphs" stroke="#231f20" stroke-width="0">50</text>
<line x1="50.70" y1="329.00" x2="54.00" y2="329.00" stroke="#231f20" stroke-width="0.9"/>
<text x="47.80" y="331.60" font-size="8.3" text-anchor="end" textLength="14.55" lengthAdjust="spacingAndGlyphs" stroke="#231f20" stroke-width="0">100</text>
<line x1="50.70" y1="312.35" x2="54.00" y2="312.35" stroke="#231f20" stroke-width="0.9"/>
<text x="47.80" y="314.95" font-size="8.3" text-anchor="end" textLength="14.55" lengthAdjust="spacingAndGlyphs" stroke="#231f20" stroke-width="0">150</text>
<line x1="50.70" y1="295.70" x2="54.00" y2="295.70" stroke="#231f20" stroke-width="0.9"/>
<text x="47.80" y="298.30" font-size="8.3" text-anchor="end" textLength="14.55" lengthAdjust="spacingAndGlyphs" stroke="#231f20" stroke-width="0">200</text>
<line x1="50.70" y1="279.05" x2="54.00" y2="279.05" stroke="#231f20" stroke-width="0.9"/>
<text x="47.80" y="281.65" font-size="8.3" text-anchor="end" textLength="14.55" lengthAdjust="spacingAndGlyphs" stroke="#231f20" stroke-width="0">250</text>
<line x1="52.40" y1="353.98" x2="54.00" y2="353.98" stroke="#231f20" stroke-width="0.7"/>
<line x1="52.40" y1="337.32" x2="54.00" y2="337.32" stroke="#231f20" stroke-width="0.7"/>
<line x1="52.40" y1="320.68" x2="54.00" y2="320.68" stroke="#231f20" stroke-width="0.7"/>
<line x1="52.40" y1="304.02" x2="54.00" y2="304.02" stroke="#231f20" stroke-width="0.7"/>
<line x1="52.40" y1="287.38" x2="54.00" y2="287.38" stroke="#231f20" stroke-width="0.7"/>
<line x1="52.40" y1="270.73" x2="54.00" y2="270.73" stroke="#231f20" stroke-width="0.7"/>
<line x1="53.80" y1="362.70" x2="53.80" y2="366.00" stroke="#231f20" stroke-width="0.9"/>
<text x="53.80" y="376.30" font-size="8.3" text-anchor="middle" textLength="4.85" lengthAdjust="spacingAndGlyphs" stroke="#231f20" stroke-width="0">0</text>
<line x1="62.72" y1="362.70" x2="62.72" y2="364.40" stroke="#231f20" stroke-width="0.8"/>
<line x1="71.63" y1="362.70" x2="71.63" y2="364.40" stroke="#231f20" stroke-width="0.8"/>
<line x1="80.55" y1="362.70" x2="80.55" y2="366.00" stroke="#231f20" stroke-width="0.9"/>
<text x="80.55" y="376.30" font-size="8.3" text-anchor="middle" textLength="9.70" lengthAdjust="spacingAndGlyphs" stroke="#231f20" stroke-width="0">90</text>
<line x1="89.46" y1="362.70" x2="89.46" y2="364.40" stroke="#231f20" stroke-width="0.8"/>
<line x1="98.38" y1="362.70" x2="98.38" y2="364.40" stroke="#231f20" stroke-width="0.8"/>
<line x1="107.30" y1="362.70" x2="107.30" y2="366.00" stroke="#231f20" stroke-width="0.9"/>
<text x="107.30" y="376.30" font-size="8.3" text-anchor="middle" textLength="14.55" lengthAdjust="spacingAndGlyphs" stroke="#231f20" stroke-width="0">180</text>
<line x1="116.21" y1="362.70" x2="116.21" y2="364.40" stroke="#231f20" stroke-width="0.8"/>
<line x1="125.13" y1="362.70" x2="125.13" y2="364.40" stroke="#231f20" stroke-width="0.8"/>
<line x1="134.04" y1="362.70" x2="134.04" y2="366.00" stroke="#231f20" stroke-width="0.9"/>
<text x="134.04" y="376.30" font-size="8.3" text-anchor="middle" textLength="14.55" lengthAdjust="spacingAndGlyphs" stroke="#231f20" stroke-width="0">270</text>
<line x1="142.96" y1="362.70" x2="142.96" y2="364.40" stroke="#231f20" stroke-width="0.8"/>
<line x1="151.88" y1="362.70" x2="151.88" y2="364.40" stroke="#231f20" stroke-width="0.8"/>
<line x1="160.79" y1="362.70" x2="160.79" y2="366.00" stroke="#231f20" stroke-width="0.9"/>
<text x="160.79" y="376.30" font-size="8.3" text-anchor="middle" textLength="14.55" lengthAdjust="spacingAndGlyphs" stroke="#231f20" stroke-width="0">360</text>
<line x1="169.71" y1="362.70" x2="169.71" y2="364.40" stroke="#231f20" stroke-width="0.8"/>
<line x1="178.62" y1="362.70" x2="178.62" y2="364.40" stroke="#231f20" stroke-width="0.8"/>
<line x1="187.54" y1="362.70" x2="187.54" y2="366.00" stroke="#231f20" stroke-width="0.9"/>
<text x="187.54" y="376.30" font-size="8.3" text-anchor="middle" textLength="14.55" lengthAdjust="spacingAndGlyphs" stroke="#231f20" stroke-width="0">450</text>
<line x1="196.46" y1="362.70" x2="196.46" y2="364.40" stroke="#231f20" stroke-width="0.8"/>
<line x1="205.37" y1="362.70" x2="205.37" y2="364.40" stroke="#231f20" stroke-width="0.8"/>
<line x1="214.29" y1="362.70" x2="214.29" y2="366.00" stroke="#231f20" stroke-width="0.9"/>
<text x="214.29" y="376.30" font-size="8.3" text-anchor="middle" textLength="14.55" lengthAdjust="spacingAndGlyphs" stroke="#231f20" stroke-width="0">540</text>
<text x="100.60" y="389.10" font-size="9.6" textLength="69.20" lengthAdjust="spacingAndGlyphs" stroke="#231f20" stroke-width="0.45">Time (days post-CAR-T)</text>
<text x="27.60" y="383.40" font-size="10.4" textLength="150.70" lengthAdjust="spacingAndGlyphs" stroke="#231f20" stroke-width="0.45" transform="rotate(-90 27.60 383.40)">Change from pre-CAR19 tetanus toxoid IgG OD (%)</text>
<rect x="61.62" y="306.86" width="1.1" height="1.1" fill="#f0b070"/>
<rect x="61.62" y="313.51" width="1.1" height="1.1" fill="#8090c0"/>
<rect x="61.62" y="325.17" width="1.1" height="1.1" fill="#8090c0"/>
<rect x="61.62" y="326.84" width="1.1" height="1.1" fill="#f0b070"/>
<rect x="61.62" y="330.17" width="1.1" height="1.1" fill="#f0b070"/>
<rect x="61.62" y="335.16" width="1.1" height="1.1" fill="#f0b070"/>
<rect x="61.62" y="338.49" width="1.1" height="1.1" fill="#8090c0"/>
<rect x="61.62" y="343.49" width="1.1" height="1.1" fill="#f0b070"/>
<rect x="61.62" y="348.48" width="1.1" height="1.1" fill="#8090c0"/>
<rect x="61.62" y="261.48" width="1.1" height="1.1" fill="#f0b070"/>
<rect x="71.13" y="326.84" width="1.1" height="1.1" fill="#f0b070"/>
<rect x="71.13" y="332.50" width="1.1" height="1.1" fill="#f0b070"/>
<rect x="71.13" y="348.48" width="1.1" height="1.1" fill="#f0b070"/>
<rect x="80.05" y="323.50" width="1.1" height="1.1" fill="#8090c0"/>
<rect x="80.05" y="326.84" width="1.1" height="1.1" fill="#f0b070"/>
<rect x="80.05" y="330.17" width="1.1" height="1.1" fill="#8090c0"/>
<rect x="80.05" y="335.16" width="1.1" height="1.1" fill="#8090c0"/>
<rect x="80.05" y="345.15" width="1.1" height="1.1" fill="#f0b070"/>
<rect x="80.05" y="262.20" width="1.1" height="1.1" fill="#8090c0"/>
<rect x="80.05" y="274.55" width="1.1" height="1.1" fill="#8090c0"/>
<rect x="106.80" y="306.86" width="1.1" height="1.1" fill="#f0b070"/>
<rect x="106.80" y="310.19" width="1.1" height="1.1" fill="#8090c0"/>
<rect x="106.80" y="328.50" width="1.1" height="1.1" fill="#f0b070"/>
<rect x="106.80" y="331.83" width="1.1" height="1.1" fill="#8090c0"/>
<rect x="106.80" y="336.82" width="1.1" height="1.1" fill="#f0b070"/>
<rect x="106.80" y="341.15" width="1.1" height="1.1" fill="#8090c0"/>
<rect x="106.80" y="259.32" width="1.1" height="1.1" fill="#8090c0"/>
<rect x="133.54" y="321.84" width="1.1" height="1.1" fill="#8090c0"/>
<rect x="133.54" y="257.88" width="1.1" height="1.1" fill="#8090c0"/>
<rect x="161.78" y="318.51" width="1.1" height="1.1" fill="#f0b070"/>
<rect x="161.78" y="322.51" width="1.1" height="1.1" fill="#8090c0"/>
<rect x="161.78" y="335.16" width="1.1" height="1.1" fill="#f0b070"/>
<rect x="161.78" y="340.16" width="1.1" height="1.1" fill="#8090c0"/>
<rect x="161.78" y="344.48" width="1.1" height="1.1" fill="#8090c0"/>
<rect x="161.78" y="257.88" width="1.1" height="1.1" fill="#8090c0"/>
<rect x="161.78" y="265.80" width="1.1" height="1.1" fill="#8090c0"/>
<path d="M53.80,329.00 L62.12,331.66 L71.63,341.32 L80.55,315.68 L107.30,323.34 L134.04,299.36 L162.28,313.68 L189.03,338.32" fill="none" stroke="#2c4a8c" stroke-width="1.65" stroke-linejoin="round"/>
<path d="M53.80,329.00 L62.12,330.67 L71.63,337.99 L80.55,333.66 L107.30,324.67 L134.04,316.01 L162.28,333.33" fill="none" stroke="#e0921f" stroke-width="1.65" stroke-linejoin="round"/>
<line x1="178.70" y1="246.30" x2="184.80" y2="246.30" stroke="#e0921f" stroke-width="1.5"/>
<text x="188.10" y="248.60" font-size="7.8" textLength="29.50" lengthAdjust="spacingAndGlyphs" fill="#e0921f" stroke="#e0921f" stroke-width="0.15">Non-IVIG</text>
<line x1="178.70" y1="257.30" x2="184.80" y2="257.30" stroke="#2c4a8c" stroke-width="1.5"/>
<text x="188.10" y="259.60" font-size="7.8" textLength="14.00" lengthAdjust="spacingAndGlyphs" fill="#2c4a8c" stroke="#2c4a8c" stroke-width="0.15">IVIG</text>
<text x="178.70" y="270.80" font-size="7.5" textLength="37.50" lengthAdjust="spacingAndGlyphs" stroke="#231f20" stroke-width="0.15">Inter-Group</text>
<line x1="178.70" y1="271.80" x2="216.20" y2="271.80" stroke="#231f20" stroke-width="0.6"/>
<text x="178.70" y="279.90" font-size="7.5" textLength="70.70" lengthAdjust="spacingAndGlyphs" stroke="#231f20" stroke-width="0.15"><tspan font-style="italic">p</tspan> <tspan font-weight="bold">=</tspan> &gt;0.38 at all points</text>
<text x="178.70" y="291.10" font-size="7.5" textLength="37.50" lengthAdjust="spacingAndGlyphs" stroke="#231f20" stroke-width="0.15">Intra-Group</text>
<line x1="178.70" y1="292.10" x2="216.20" y2="292.10" stroke="#231f20" stroke-width="0.6"/>
<text x="178.70" y="300.30" font-size="7.5" textLength="64.30" lengthAdjust="spacingAndGlyphs" stroke="#231f20" stroke-width="0.15"><tspan font-style="italic">p</tspan> <tspan font-weight="bold">=</tspan> 0.033 (No IVIG)</text>
<text x="178.70" y="309.30" font-size="7.5" textLength="51.40" lengthAdjust="spacingAndGlyphs" stroke="#231f20" stroke-width="0.15"><tspan font-style="italic">p</tspan> <tspan font-weight="bold">=</tspan> 0.238 (IVIG)</text>
<text x="16.90" y="400.70" font-size="7.5" textLength="49.00" lengthAdjust="spacingAndGlyphs" stroke="#231f20" stroke-width="0.15">Number at Risk</text>
<text x="16.90" y="412.40" font-size="7.5" textLength="25.60" lengthAdjust="spacingAndGlyphs" stroke="#231f20" stroke-width="0.15">No IVIG</text>
<text x="16.90" y="421.20" font-size="7.5" textLength="21.00" lengthAdjust="spacingAndGlyphs" stroke="#231f20" stroke-width="0.15">(IVIG)</text>
<text x="53.80" y="412.40" font-size="7.5" text-anchor="middle" stroke="#231f20" stroke-width="0.15">18</text>
<text x="53.80" y="421.20" font-size="7.5" text-anchor="middle" stroke="#231f20" stroke-width="0.15">(9)</text>
<text x="62.72" y="412.40" font-size="7.5" text-anchor="middle" stroke="#231f20" stroke-width="0.15">18</text>
<text x="62.72" y="421.20" font-size="7.5" text-anchor="middle" stroke="#231f20" stroke-width="0.15">(9)</text>
<text x="80.55" y="412.40" font-size="7.5" text-anchor="middle" stroke="#231f20" stroke-width="0.15">10</text>
<text x="80.55" y="421.20" font-size="7.5" text-anchor="middle" stroke="#231f20" stroke-width="0.15">(9)</text>
<text x="107.30" y="412.40" font-size="7.5" text-anchor="middle" stroke="#231f20" stroke-width="0.15">6</text>
<text x="107.30" y="421.20" font-size="7.5" text-anchor="middle" stroke="#231f20" stroke-width="0.15">(9)</text>
<text x="134.04" y="412.40" font-size="7.5" text-anchor="middle" stroke="#231f20" stroke-width="0.15">2</text>
<text x="134.04" y="421.20" font-size="7.5" text-anchor="middle" stroke="#231f20" stroke-width="0.15">(6)</text>
<text x="160.79" y="412.40" font-size="7.5" text-anchor="middle" stroke="#231f20" stroke-width="0.15">2</text>
<text x="160.79" y="421.20" font-size="7.5" text-anchor="middle" stroke="#231f20" stroke-width="0.15">(5)</text>
<text x="265.10" y="233.10" font-size="11.2" font-weight="bold" fill="#000" stroke="#000" stroke-width="0.3">D</text>
<line x1="313.40" y1="253.00" x2="313.40" y2="266.00" stroke="#231f20" stroke-width="1.2"/>
<line x1="310.10" y1="266.00" x2="316.50" y2="266.00" stroke="#231f20" stroke-width="1.0"/>
<line x1="310.10" y1="270.40" x2="316.50" y2="270.40" stroke="#231f20" stroke-width="1.0"/>
<line x1="310.10" y1="255.50" x2="313.40" y2="255.50" stroke="#231f20" stroke-width="0.9"/>
<text x="306.95" y="258.10" font-size="8.3" text-anchor="end" textLength="14.55" lengthAdjust="spacingAndGlyphs" stroke="#231f20" stroke-width="0">600</text>
<line x1="310.10" y1="262.70" x2="313.40" y2="262.70" stroke="#231f20" stroke-width="0.9"/>
<text x="306.95" y="265.30" font-size="8.3" text-anchor="end" textLength="14.55" lengthAdjust="spacingAndGlyphs" stroke="#231f20" stroke-width="0">400</text>
<line x1="311.80" y1="257.30" x2="313.40" y2="257.30" stroke="#231f20" stroke-width="0.7"/>
<line x1="311.80" y1="259.10" x2="313.40" y2="259.10" stroke="#231f20" stroke-width="0.7"/>
<line x1="311.80" y1="260.90" x2="313.40" y2="260.90" stroke="#231f20" stroke-width="0.7"/>
<line x1="311.80" y1="264.50" x2="313.40" y2="264.50" stroke="#231f20" stroke-width="0.7"/>
<line x1="313.40" y1="270.40" x2="313.40" y2="363.30" stroke="#231f20" stroke-width="1.2"/>
<line x1="312.80" y1="362.70" x2="476.70" y2="362.70" stroke="#231f20" stroke-width="1.2"/>
<line x1="310.10" y1="362.30" x2="313.40" y2="362.30" stroke="#231f20" stroke-width="0.9"/>
<text x="307.20" y="364.90" font-size="8.3" text-anchor="end" textLength="4.85" lengthAdjust="spacingAndGlyphs" stroke="#231f20" stroke-width="0">0</text>
<line x1="310.10" y1="345.65" x2="313.40" y2="345.65" stroke="#231f20" stroke-width="0.9"/>
<text x="307.20" y="348.25" font-size="8.3" text-anchor="end" textLength="9.70" lengthAdjust="spacingAndGlyphs" stroke="#231f20" stroke-width="0">50</text>
<line x1="310.10" y1="329.00" x2="313.40" y2="329.00" stroke="#231f20" stroke-width="0.9"/>
<text x="307.20" y="331.60" font-size="8.3" text-anchor="end" textLength="14.55" lengthAdjust="spacingAndGlyphs" stroke="#231f20" stroke-width="0">100</text>
<line x1="310.10" y1="312.35" x2="313.40" y2="312.35" stroke="#231f20" stroke-width="0.9"/>
<text x="307.20" y="314.95" font-size="8.3" text-anchor="end" textLength="14.55" lengthAdjust="spacingAndGlyphs" stroke="#231f20" stroke-width="0">150</text>
<line x1="310.10" y1="295.70" x2="313.40" y2="295.70" stroke="#231f20" stroke-width="0.9"/>
<text x="307.20" y="298.30" font-size="8.3" text-anchor="end" textLength="14.55" lengthAdjust="spacingAndGlyphs" stroke="#231f20" stroke-width="0">200</text>
<line x1="310.10" y1="279.05" x2="313.40" y2="279.05" stroke="#231f20" stroke-width="0.9"/>
<text x="307.20" y="281.65" font-size="8.3" text-anchor="end" textLength="14.55" lengthAdjust="spacingAndGlyphs" stroke="#231f20" stroke-width="0">250</text>
<line x1="311.80" y1="353.98" x2="313.40" y2="353.98" stroke="#231f20" stroke-width="0.7"/>
<line x1="311.80" y1="337.32" x2="313.40" y2="337.32" stroke="#231f20" stroke-width="0.7"/>
<line x1="311.80" y1="320.68" x2="313.40" y2="320.68" stroke="#231f20" stroke-width="0.7"/>
<line x1="311.80" y1="304.02" x2="313.40" y2="304.02" stroke="#231f20" stroke-width="0.7"/>
<line x1="311.80" y1="287.38" x2="313.40" y2="287.38" stroke="#231f20" stroke-width="0.7"/>
<line x1="311.80" y1="270.73" x2="313.40" y2="270.73" stroke="#231f20" stroke-width="0.7"/>
<line x1="313.20" y1="362.70" x2="313.20" y2="366.00" stroke="#231f20" stroke-width="0.9"/>
<text x="313.20" y="376.30" font-size="8.3" text-anchor="middle" textLength="4.85" lengthAdjust="spacingAndGlyphs" stroke="#231f20" stroke-width="0">0</text>
<line x1="322.12" y1="362.70" x2="322.12" y2="364.40" stroke="#231f20" stroke-width="0.8"/>
<line x1="331.03" y1="362.70" x2="331.03" y2="364.40" stroke="#231f20" stroke-width="0.8"/>
<line x1="339.95" y1="362.70" x2="339.95" y2="366.00" stroke="#231f20" stroke-width="0.9"/>
<text x="339.95" y="376.30" font-size="8.3" text-anchor="middle" textLength="9.70" lengthAdjust="spacingAndGlyphs" stroke="#231f20" stroke-width="0">90</text>
<line x1="348.86" y1="362.70" x2="348.86" y2="364.40" stroke="#231f20" stroke-width="0.8"/>
<line x1="357.78" y1="362.70" x2="357.78" y2="364.40" stroke="#231f20" stroke-width="0.8"/>
<line x1="366.70" y1="362.70" x2="366.70" y2="366.00" stroke="#231f20" stroke-width="0.9"/>
<text x="366.70" y="376.30" font-size="8.3" text-anchor="middle" textLength="14.55" lengthAdjust="spacingAndGlyphs" stroke="#231f20" stroke-width="0">180</text>
<line x1="375.61" y1="362.70" x2="375.61" y2="364.40" stroke="#231f20" stroke-width="0.8"/>
<line x1="384.53" y1="362.70" x2="384.53" y2="364.40" stroke="#231f20" stroke-width="0.8"/>
<line x1="393.44" y1="362.70" x2="393.44" y2="366.00" stroke="#231f20" stroke-width="0.9"/>
<text x="393.44" y="376.30" font-size="8.3" text-anchor="middle" textLength="14.55" lengthAdjust="spacingAndGlyphs" stroke="#231f20" stroke-width="0">270</text>
<line x1="402.36" y1="362.70" x2="402.36" y2="364.40" stroke="#231f20" stroke-width="0.8"/>
<line x1="411.28" y1="362.70" x2="411.28" y2="364.40" stroke="#231f20" stroke-width="0.8"/>
<line x1="420.19" y1="362.70" x2="420.19" y2="366.00" stroke="#231f20" stroke-width="0.9"/>
<text x="420.19" y="376.30" font-size="8.3" text-anchor="middle" textLength="14.55" lengthAdjust="spacingAndGlyphs" stroke="#231f20" stroke-width="0">360</text>
<line x1="429.11" y1="362.70" x2="429.11" y2="364.40" stroke="#231f20" stroke-width="0.8"/>
<line x1="438.02" y1="362.70" x2="438.02" y2="364.40" stroke="#231f20" stroke-width="0.8"/>
<line x1="446.94" y1="362.70" x2="446.94" y2="366.00" stroke="#231f20" stroke-width="0.9"/>
<text x="446.94" y="376.30" font-size="8.3" text-anchor="middle" textLength="14.55" lengthAdjust="spacingAndGlyphs" stroke="#231f20" stroke-width="0">450</text>
<line x1="455.86" y1="362.70" x2="455.86" y2="364.40" stroke="#231f20" stroke-width="0.8"/>
<line x1="464.77" y1="362.70" x2="464.77" y2="364.40" stroke="#231f20" stroke-width="0.8"/>
<line x1="473.69" y1="362.70" x2="473.69" y2="366.00" stroke="#231f20" stroke-width="0.9"/>
<text x="473.69" y="376.30" font-size="8.3" text-anchor="middle" textLength="14.55" lengthAdjust="spacingAndGlyphs" stroke="#231f20" stroke-width="0">540</text>
<text x="360.60" y="389.10" font-size="9.6" textLength="69.20" lengthAdjust="spacingAndGlyphs" stroke="#231f20" stroke-width="0.45">Time (days post-CAR-T)</text>
<text x="288.00" y="374.60" font-size="10.4" textLength="133.60" lengthAdjust="spacingAndGlyphs" stroke="#231f20" stroke-width="0.45" transform="rotate(-90 288.00 374.60)">Change from pre-CAR19 VZV gpE IgG OD (%)</text>
<rect x="321.02" y="320.18" width="1.1" height="1.1" fill="#8090c0"/>
<rect x="321.02" y="322.51" width="1.1" height="1.1" fill="#8090c0"/>
<rect x="321.02" y="330.17" width="1.1" height="1.1" fill="#f0b070"/>
<rect x="321.02" y="333.50" width="1.1" height="1.1" fill="#f0b070"/>
<rect x="321.02" y="336.82" width="1.1" height="1.1" fill="#f0b070"/>
<rect x="321.02" y="341.82" width="1.1" height="1.1" fill="#f0b070"/>
<rect x="321.02" y="355.14" width="1.1" height="1.1" fill="#8090c0"/>
<rect x="330.53" y="325.17" width="1.1" height="1.1" fill="#f0b070"/>
<rect x="330.53" y="327.83" width="1.1" height="1.1" fill="#f0b070"/>
<rect x="330.53" y="346.81" width="1.1" height="1.1" fill="#f0b070"/>
<rect x="339.45" y="303.52" width="1.1" height="1.1" fill="#f0b070"/>
<rect x="339.45" y="318.51" width="1.1" height="1.1" fill="#8090c0"/>
<rect x="339.45" y="328.50" width="1.1" height="1.1" fill="#f0b070"/>
<rect x="339.45" y="331.83" width="1.1" height="1.1" fill="#8090c0"/>
<rect x="339.45" y="338.49" width="1.1" height="1.1" fill="#f0b070"/>
<rect x="339.45" y="345.15" width="1.1" height="1.1" fill="#f0b070"/>
<rect x="339.45" y="262.20" width="1.1" height="1.1" fill="#8090c0"/>
<rect x="366.20" y="323.50" width="1.1" height="1.1" fill="#f0b070"/>
<rect x="366.20" y="331.83" width="1.1" height="1.1" fill="#8090c0"/>
<rect x="366.20" y="335.16" width="1.1" height="1.1" fill="#8090c0"/>
<rect x="366.20" y="338.49" width="1.1" height="1.1" fill="#f0b070"/>
<rect x="366.20" y="345.15" width="1.1" height="1.1" fill="#8090c0"/>
<rect x="366.20" y="260.76" width="1.1" height="1.1" fill="#8090c0"/>
<rect x="366.20" y="281.88" width="1.1" height="1.1" fill="#8090c0"/>
<rect x="392.94" y="318.51" width="1.1" height="1.1" fill="#8090c0"/>
<rect x="392.94" y="328.50" width="1.1" height="1.1" fill="#8090c0"/>
<rect x="392.94" y="258.60" width="1.1" height="1.1" fill="#8090c0"/>
<rect x="392.94" y="260.76" width="1.1" height="1.1" fill="#8090c0"/>
<rect x="421.18" y="306.86" width="1.1" height="1.1" fill="#8090c0"/>
<rect x="421.18" y="310.19" width="1.1" height="1.1" fill="#8090c0"/>
<rect x="421.18" y="335.16" width="1.1" height="1.1" fill="#f0b070"/>
<rect x="421.18" y="350.14" width="1.1" height="1.1" fill="#8090c0"/>
<rect x="421.18" y="257.16" width="1.1" height="1.1" fill="#8090c0"/>
<path d="M313.20,329.00 L321.52,338.66 L331.03,337.32 L339.95,320.34 L366.70,326.00 L393.44,291.37 L421.68,318.01 L448.43,335.33" fill="none" stroke="#2c4a8c" stroke-width="1.65" stroke-linejoin="round"/>
<path d="M313.20,329.00 L321.52,337.99 L331.03,334.66 L339.95,334.00 L366.70,332.33 L421.68,338.99" fill="none" stroke="#e0921f" stroke-width="1.65" stroke-linejoin="round"/>
<line x1="442.20" y1="248.40" x2="448.30" y2="248.40" stroke="#e0921f" stroke-width="1.5"/>
<text x="451.60" y="250.70" font-size="7.8" textLength="29.50" lengthAdjust="spacingAndGlyphs" fill="#e0921f" stroke="#e0921f" stroke-width="0.15">Non-IVIG</text>
<line x1="442.20" y1="259.40" x2="448.30" y2="259.40" stroke="#2c4a8c" stroke-width="1.5"/>
<text x="451.60" y="261.70" font-size="7.8" textLength="14.00" lengthAdjust="spacingAndGlyphs" fill="#2c4a8c" stroke="#2c4a8c" stroke-width="0.15">IVIG</text>
<text x="442.20" y="272.90" font-size="7.5" textLength="36.70" lengthAdjust="spacingAndGlyphs" stroke="#231f20" stroke-width="0.15">Inter-Group</text>
<line x1="442.20" y1="273.90" x2="478.90" y2="273.90" stroke="#231f20" stroke-width="0.6"/>
<text x="442.20" y="282.00" font-size="7.5" textLength="70.70" lengthAdjust="spacingAndGlyphs" stroke="#231f20" stroke-width="0.15"><tspan font-style="italic">p</tspan> <tspan font-weight="bold">=</tspan> &gt;0.58 at all points</text>
<text x="442.20" y="293.20" font-size="7.5" textLength="36.70" lengthAdjust="spacingAndGlyphs" stroke="#231f20" stroke-width="0.15">Intra-Group</text>
<line x1="442.20" y1="294.20" x2="478.90" y2="294.20" stroke="#231f20" stroke-width="0.6"/>
<text x="442.20" y="302.40" font-size="7.5" textLength="64.60" lengthAdjust="spacingAndGlyphs" stroke="#231f20" stroke-width="0.15"><tspan font-style="italic">p</tspan> <tspan font-weight="bold">=</tspan> 0.004 (No IVIG)</text>
<text x="442.20" y="311.40" font-size="7.5" textLength="51.40" lengthAdjust="spacingAndGlyphs" stroke="#231f20" stroke-width="0.15"><tspan font-style="italic">p</tspan> <tspan font-weight="bold">=</tspan> 0.396 (IVIG)</text>
<text x="273.20" y="400.70" font-size="7.5" textLength="49.00" lengthAdjust="spacingAndGlyphs" stroke="#231f20" stroke-width="0.15">Number at Risk</text>
<text x="273.20" y="412.40" font-size="7.5" textLength="25.60" lengthAdjust="spacingAndGlyphs" stroke="#231f20" stroke-width="0.15">No IVIG</text>
<text x="273.20" y="421.20" font-size="7.5" textLength="21.00" lengthAdjust="spacingAndGlyphs" stroke="#231f20" stroke-width="0.15">(IVIG)</text>
<text x="313.20" y="412.40" font-size="7.5" text-anchor="middle" stroke="#231f20" stroke-width="0.15">17</text>
<text x="313.20" y="421.20" font-size="7.5" text-anchor="middle" stroke="#231f20" stroke-width="0.15">(8)</text>
<text x="322.12" y="412.40" font-size="7.5" text-anchor="middle" stroke="#231f20" stroke-width="0.15">17</text>
<text x="322.12" y="421.20" font-size="7.5" text-anchor="middle" stroke="#231f20" stroke-width="0.15">(8)</text>
<text x="339.95" y="412.40" font-size="7.5" text-anchor="middle" stroke="#231f20" stroke-width="0.15">9</text>
<text x="339.95" y="421.20" font-size="7.5" text-anchor="middle" stroke="#231f20" stroke-width="0.15">(8)</text>
<text x="366.70" y="412.40" font-size="7.5" text-anchor="middle" stroke="#231f20" stroke-width="0.15">5</text>
<text x="366.70" y="421.20" font-size="7.5" text-anchor="middle" stroke="#231f20" stroke-width="0.15">(8)</text>
<text x="393.44" y="412.40" font-size="7.5" text-anchor="middle" stroke="#231f20" stroke-width="0.15">1</text>
<text x="393.44" y="421.20" font-size="7.5" text-anchor="middle" stroke="#231f20" stroke-width="0.15">(6)</text>
<text x="420.19" y="412.40" font-size="7.5" text-anchor="middle" stroke="#231f20" stroke-width="0.15">1</text>
<text x="420.19" y="421.20" font-size="7.5" text-anchor="middle" stroke="#231f20" stroke-width="0.15">(5)</text>
<rect x="0.5" y="0.5" width="519" height="429" fill="none" stroke="#000" stroke-width="1"/>
</svg></body></html>
